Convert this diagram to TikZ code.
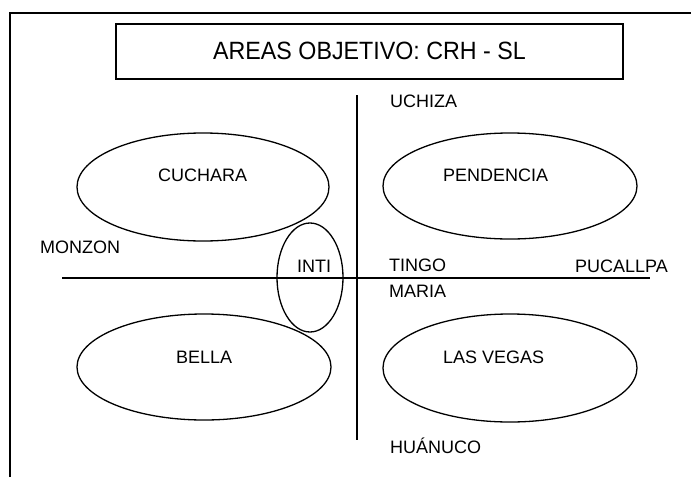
\documentclass[tikz,border=0pt]{standalone}
\usepackage{fontspec}
\setmainfont{Liberation Sans}
\newfontfamily\titlefont[FakeStretch=0.93]{Liberation Sans}
\usetikzlibrary{shapes.geometric}

\begin{document}
\begin{tikzpicture}[x=1pt,y=-1pt,
    area/.style={ellipse,draw,line width=1.3pt,inner sep=0pt},
    place/.style={anchor=base west,inner sep=0pt,font=\fontsize{18}{20}\selectfont},
    axis/.style={line width=1.5pt}]
    \useasboundingbox (0,0) rectangle (691,477);
    % marco exterior
    \coordinate (fr top)    at (691,12.7);
    \coordinate (fr corner) at (9.5,12.7);
    \coordinate (fr bottom) at (9.5,477);
    \draw[line width=2pt] (fr bottom) -- (fr corner) -- (fr top);

    \node[draw,line width=1.7pt,minimum width=507pt,minimum height=55pt] (title) at (369.5,51.2) {};
    \node[anchor=base,inner sep=0pt,font=\titlefont\fontsize{25}{28}\selectfont] (title text) at (369.5,59) {AREAS OBJETIVO: CRH - SL};

    % areas
    \node[area,minimum width=252pt,minimum height=108pt] (cuchara)   at (203,187) {};
    \node[area,minimum width=254pt,minimum height=106pt] (pendencia) at (510,186) {};
    \node[area,minimum width=66pt,minimum height=109pt]  (inti)      at (310,277.5) {};
    \node[area,minimum width=254pt,minimum height=106pt] (bella)     at (204,367) {};
    \node[area,minimum width=254pt,minimum height=108pt] (vegas)     at (510,368) {};

    % ejes
    \coordinate (north) at (357,95);
    \coordinate (south) at (357,440);
    \coordinate (west)  at (62,278);
    \coordinate (east)  at (650,278);
    \draw[axis] (north) -- (south);
    \draw[axis] (west) -- (east);

    % nombres
    \node[place] (uchiza)   at (390,107) {UCHIZA};
    \node[place] (l cuch)   at (158,181) {CUCHARA};
    \node[place] (l pend)   at (443,181) {PENDENCIA};
    \node[place] (monzon)   at (40,253)  {MONZON};
    \node[place] (l inti)   at (297,272) {INTI};
    \node[place] (tingo)    at (389,271) {TINGO};
    \node[place] (pucallpa) at (575,272) {PUCALLPA};
    \node[place] (maria)    at (389,297) {MARIA};
    \node[place] (l bella)  at (176,363) {BELLA};
    \node[place] (l vegas)  at (443,363) {LAS VEGAS};
    \node[place] (huanuco)  at (390,453) {HUÁNUCO};
\end{tikzpicture}
\end{document}
